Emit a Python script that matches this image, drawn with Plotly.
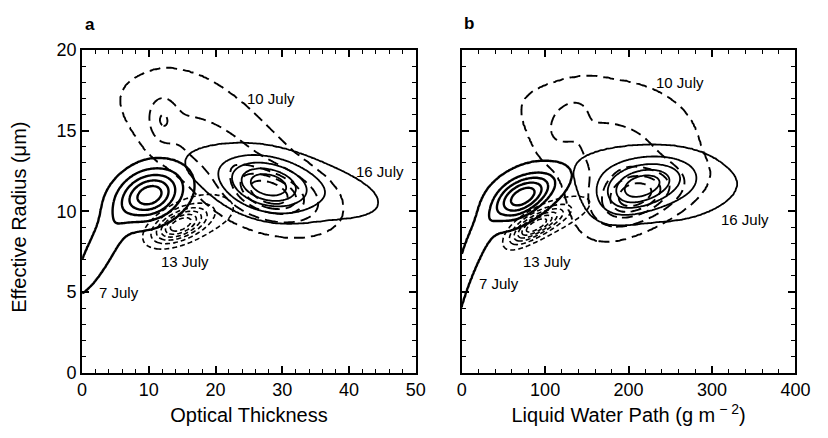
import numpy as np
import plotly.graph_objects as go

# Bivariate frequency distributions of effective radius vs optical thickness,
# one mixture of Gaussian lobes per flight day:
# (weight, tau_centre, re_centre, tau_sigma, re_sigma, correlation)
JUL7 = [
    (1.00, 10.3, 11.0, 2.9, 0.95, 0.25),
    (0.20, 3.0, 7.8, 3.2, 2.3, 0.85),
    (0.10, 9.0, 11.1, 4.0, 1.5, 0.40),
]
JUL10 = [
    (0.40, 12.0, 15.7, 1.4, 1.0, 0.00),
    (1.00, 28.5, 11.0, 4.5, 1.1, -0.30),
    (0.45, 20.0, 13.8, 7.0, 2.0, -0.70),
    (0.12, 19.5, 15.4, 7.6, 3.1, -0.60),
]
JUL13 = [
    (1.00, 14.6, 9.15, 2.6, 0.70, 0.50),
    (0.15, 19.0, 10.0, 4.0, 1.00, 0.20),
]
JUL16 = [
    (1.00, 27.8, 11.6, 3.6, 0.95, -0.25),
    (0.25, 30.0, 11.8, 8.6, 1.35, -0.55),
]

# contour levels as fractions of each day's peak frequency
# panel a (optical thickness)
LEV7_A = [0.08, 0.25, 0.45, 0.65, 0.85]
LEV10_A = [0.06, 0.30, 0.55, 0.70, 0.85]
LEV13_A = [0.10, 0.25, 0.40, 0.55, 0.70, 0.85]
LEV16_A = [0.05, 0.20, 0.40, 0.60, 0.80]
# panel b (liquid water path)
LEV7_B = [0.09, 0.33, 0.50, 0.68, 0.86]
LEV10_B = [0.05, 0.25, 0.50, 0.68, 0.85]
LEV13_B = [0.10, 0.25, 0.40, 0.55, 0.70, 0.85]
LEV16_B = [0.05, 0.20, 0.40, 0.60, 0.80]

DAYS = ["7 July", "10 July", "13 July", "16 July"]
COMPONENTS = [JUL7, JUL10, JUL13, JUL16]
LEVELS_A = [LEV7_A, LEV10_A, LEV13_A, LEV16_A]
LEVELS_B = [LEV7_B, LEV10_B, LEV13_B, LEV16_B]
DASHES = ["solid", "11px,6px", "5px,3px", "solid"]
WIDTHS = [2.4, 1.9, 1.6, 1.8]

# label positions (tau, re) in panel a and (LWP, re) in panel b
LABEL_A = [(5.6, 5.0), (28.3, 17.0), (15.4, 6.9), (44.7, 12.5)]
LABEL_B = [(45, 5.5), (262, 18.0), (102, 6.9), (339, 9.5)]

TAU = np.linspace(0, 50, 201)
LWP = np.linspace(0, 400, 201)
RE = np.linspace(0.05, 20, 200)


def mixture(tau, re, comps):
    z = np.zeros_like(tau)
    for w, cx, cy, sx, sy, r in comps:
        dx = (tau - cx) / sx
        dy = (re - cy) / sy
        q = (dx * dx - 2 * r * dx * dy + dy * dy) / (1 - r * r)
        z += w * np.exp(-0.5 * q)
    return z


def level_index(z, levels):
    # map the frequency onto level numbers so contours fall on 0, 1, 2, ...
    z = z / z.max()
    knots = [0.0] + list(levels) + [1.001]
    idx = [-1.0] + list(range(len(levels))) + [len(levels)]
    return np.round(np.interp(z, knots, idx), 3)


T_a, R_a = np.meshgrid(TAU, RE)
L_b, R_b = np.meshgrid(LWP, RE)
# liquid water path = 2/3 * rho_w * tau * re  ->  tau = 1.5 * LWP / re
T_b = 1.5 * L_b / R_b

fig = go.Figure()
black = [[0, "black"], [1, "black"]]
for comps, lev_a, lev_b, dash, width in zip(COMPONENTS, LEVELS_A, LEVELS_B, DASHES, WIDTHS):
    za = level_index(mixture(T_a, R_a, comps), lev_a)
    zb = level_index(mixture(T_b, R_b, comps) * 1.5 / R_b, lev_b)
    for xs, z, n, xa, ya in [(TAU, za, len(lev_a), "x", "y"),
                             (LWP, zb, len(lev_b), "x2", "y2")]:
        fig.add_trace(go.Contour(
            x=xs, y=RE, z=z, xaxis=xa, yaxis=ya,
            contours=dict(coloring="lines", start=0, end=n - 1, size=1),
            colorscale=black, showscale=False,
            line=dict(width=width, dash=dash, smoothing=1.0),
            hoverinfo="skip",
        ))

font = "Liberation Sans, Arial, Helvetica, sans-serif"
W, H = 828, 438
annotations = []
for day, (xa_, ya_), (xb_, yb_) in zip(DAYS, LABEL_A, LABEL_B):
    annotations.append(dict(x=xa_, y=ya_, xref="x", yref="y", text=day,
                            showarrow=False, font=dict(size=15, color="black")))
    annotations.append(dict(x=xb_, y=yb_, xref="x2", yref="y2", text=day,
                            showarrow=False, font=dict(size=15, color="black")))
for text, px, py, size, angle in [("<b>a</b>", 87, 15, 17, 0),
                                  ("<b>b</b>", 475, 14, 17, 0),
                                  ("Effective Radius (\u03bcm)", 14, 217, 20, -90)]:
    annotations.append(dict(x=px / W, y=1 - py / H, xref="paper", yref="paper",
                            xanchor="center", yanchor="middle", text=text,
                            textangle=angle, showarrow=False,
                            font=dict(size=size, color="black")))

axis_common = dict(
    showline=True, linewidth=2, linecolor="black", mirror="ticks",
    ticks="inside", ticklen=7, tickwidth=1.5, tickcolor="black",
    showgrid=False, zeroline=False,
    tickfont=dict(size=18, color="black"),
)
ydom = [1 - 380 / H, 1 - 42 / H]
fig.update_layout(
    width=W, height=H, margin=dict(l=0, r=0, t=0, b=0),
    paper_bgcolor="white", plot_bgcolor="white",
    font=dict(family=font, color="black"),
    showlegend=False,
    xaxis=dict(axis_common, domain=[79 / W, 421 / W], range=[0, 50], tick0=0, dtick=10,
               minor=dict(dtick=2, ticks="inside", ticklen=4, tickwidth=1.2, tickcolor="black"),
               anchor="y",
               title=dict(text="Optical Thickness", font=dict(size=20), standoff=9)),
    yaxis=dict(axis_common, domain=ydom, range=[0, 20], tick0=0, dtick=5,
               minor=dict(dtick=1, ticks="inside", ticklen=4, tickwidth=1.2, tickcolor="black"),
               anchor="x"),
    xaxis2=dict(axis_common, domain=[468 / W, 810 / W], range=[0, 400], tick0=0, dtick=100,
                minor=dict(dtick=20, ticks="inside", ticklen=4, tickwidth=1.2, tickcolor="black"),
                anchor="y2",
                title=dict(text="Liquid Water Path (g m<sup> \u2212 2</sup>)",
                           font=dict(size=20), standoff=9)),
    yaxis2=dict(axis_common, domain=ydom, range=[0, 20], tick0=0, dtick=5,
                minor=dict(dtick=1, ticks="inside", ticklen=4, tickwidth=1.2, tickcolor="black"),
                anchor="x2", showticklabels=False),
    annotations=annotations,
)

fig.write_html("out.html")
